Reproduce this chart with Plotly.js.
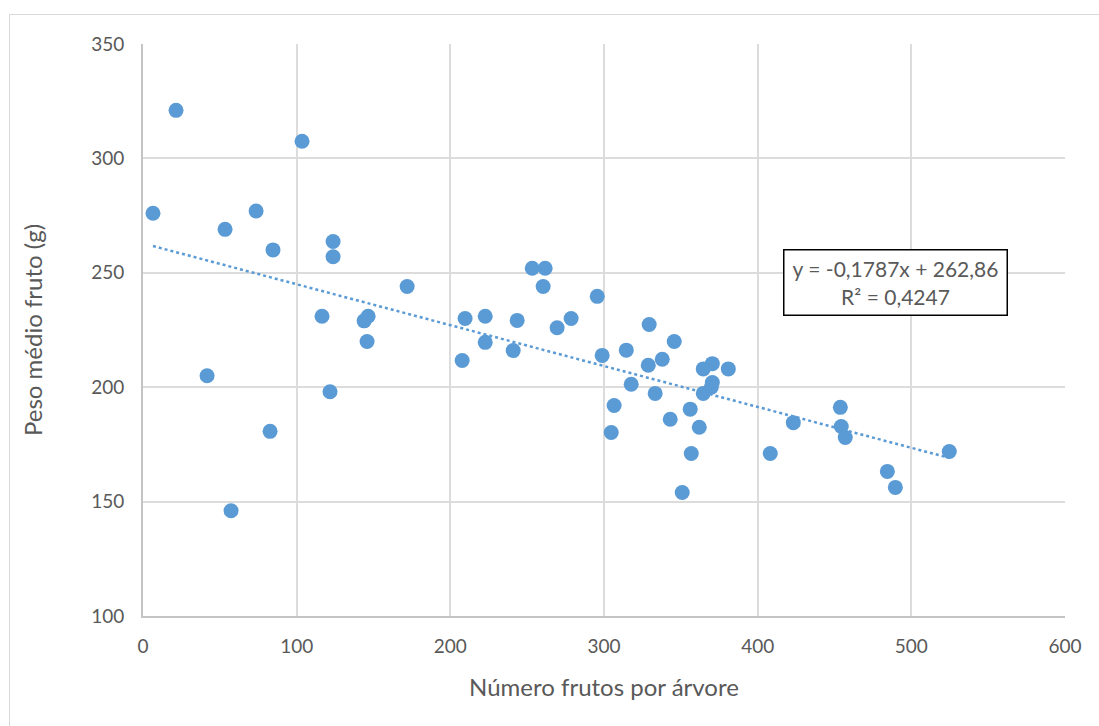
<!DOCTYPE html>
<html>
<head>
<meta charset="utf-8">
<script src="https://cdn.plot.ly/plotly-3.0.1.min.js"></script>
<style>
  html, body { margin: 0; padding: 0; background: #fff; }
  #chart { width: 1099px; height: 726px; position: absolute; left: 0; top: 0; }
  #frame { position: absolute; left: 9px; top: 14px; width: 1100px; height: 720px;
           border-top: 1px solid #d9d9d9; border-left: 1px solid #d9d9d9; pointer-events: none; }
</style>
</head>
<body>
<div id="chart"></div>
<div id="frame"></div>
<script>
// Número frutos por árvore
const frutos = [6.5, 21.5, 41.7, 53.4, 57.3, 73.6, 82.7, 84.6, 103.5, 116.5,
  121.7, 123.7, 123.7, 143.9, 146.5, 145.8, 171.9, 207.7, 209.6, 222.7,
  222.7, 240.9, 243.5, 253.3, 261.7, 260.4, 269.5, 278.6, 295.6, 298.8,
  306.6, 304.7, 314.5, 317.7, 329.4, 328.8, 333.3, 337.9, 343.1, 345.7,
  350.9, 356.1, 356.8, 362.0, 364.6, 364.6, 370.5, 369.8, 370.5, 380.9,
  408.2, 423.2, 453.8, 454.4, 457.0, 484.4, 489.6, 524.7];
// Peso médio fruto (g)
const peso = [276, 321, 205, 269, 146, 277, 180.7, 260, 307.5, 231,
  198, 263.7, 257, 229, 231, 220, 244, 211.7, 230, 231,
  219.6, 216, 229.2, 252, 252, 244, 226, 230, 239.7, 213.9,
  192, 180.2, 216.2, 201.3, 227.4, 209.6, 197.3, 212.2, 186, 220,
  154, 190.4, 171, 182.5, 208, 197.3, 202, 200, 210.3, 208,
  171, 184.5, 191.2, 182.8, 178, 163.2, 156.2, 171.9];
// Linear trend coefficients (as printed in the chart)
const slope = -0.1787;
const intercept = 262.86;
const r2 = 0.4247;
const xTicks = [0, 100, 200, 300, 400, 500, 600];
const yTicks = [100, 150, 200, 250, 300, 350];

const fmt = (v, d) => v.toFixed(d).replace('.', ',');
const xMin = Math.min(...frutos), xMax = Math.max(...frutos);
const trendX = [xMin, xMax];
const trendY = trendX.map(x => slope * x + intercept);

const blue = '#5B9BD5';
const font = 'Lato, "Open Sans", sans-serif';

const data = [
  { x: frutos, y: peso, type: 'scatter', mode: 'markers',
    marker: { color: blue, size: 15, line: { width: 0 } }, hoverinfo: 'x+y', showlegend: false },
  { x: trendX, y: trendY, type: 'scatter', mode: 'lines',
    line: { color: blue, width: 2.5, dash: 'dot' }, showlegend: false, hoverinfo: 'skip' }
];

const layout = {
  width: 1099, height: 726,
  margin: { l: 143, r: 34, t: 44, b: 110 },
  paper_bgcolor: 'rgba(0,0,0,0)', plot_bgcolor: '#fff',
  font: { family: font, color: '#595959', size: 18 },
  xaxis: {
    range: [0, 600], tickvals: xTicks, ticktext: xTicks.map(String),
    showgrid: true, gridcolor: '#dcdcdc', gridwidth: 2,
    showline: true, linecolor: '#c4c4c4', linewidth: 2,
    zeroline: false, ticks: '', ticklabelstandoff: 12, automargin: false,
    tickfont: { size: 19, color: '#595959' },
    title: { text: 'Número frutos por árvore', font: { size: 24, color: '#595959' }, standoff: 23 }
  },
  yaxis: {
    range: [100, 350], tickvals: yTicks, ticktext: yTicks.map(String),
    showgrid: true, gridcolor: '#dcdcdc', gridwidth: 2,
    showline: true, linecolor: '#c4c4c4', linewidth: 2,
    zeroline: false, ticks: '', ticklabelstandoff: 13, automargin: false,
    tickfont: { size: 19, color: '#595959' },
    title: { text: 'Peso médio fruto (g)', font: { size: 24, color: '#595959' }, standoff: 42 }
  },
  annotations: [{
    x: 489.6, y: 245.8, xref: 'x', yref: 'y', xanchor: 'center', yanchor: 'middle',
    text: 'y = ' + fmt(slope, 4) + 'x + ' + fmt(intercept, 2) + '<br>R² = ' + fmt(r2, 4),
    showarrow: false, align: 'center',
    font: { size: 21, color: '#595959', family: font },
    bgcolor: '#fff', bordercolor: '#000', borderwidth: 1.5, borderpad: 2,
    width: 218, height: 60
  }]
};

Plotly.newPlot('chart', data, layout, { displayModeBar: false, staticPlot: true });
</script>
</body>
</html>
